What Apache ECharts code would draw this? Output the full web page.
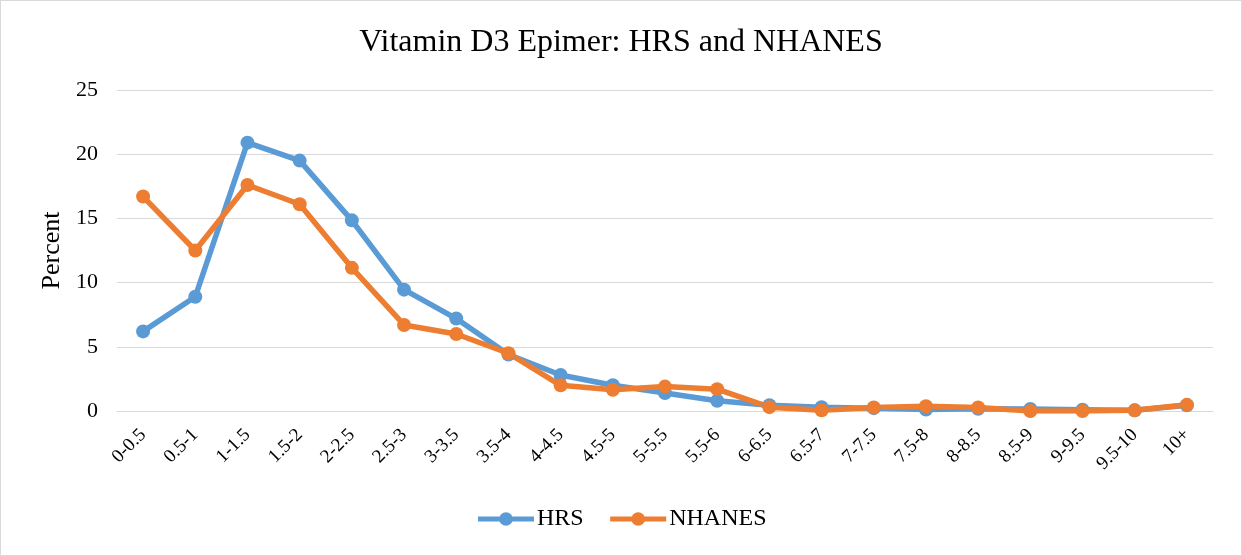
<!DOCTYPE html>
<html><head><meta charset="utf-8">
<script src="https://cdn.jsdelivr.net/npm/echarts@6/dist/echarts.min.js"></script>
<style>html,body{margin:0;padding:0;background:#fff}#c{width:1242px;height:556px;box-sizing:border-box;border:1px solid #d9d9d9}</style>
</head><body><div id="c"></div>
<script>
const categories = ['0-0.5','0.5-1','1-1.5','1.5-2','2-2.5','2.5-3','3-3.5','3.5-4','4-4.5','4.5-5','5-5.5','5.5-6','6-6.5','6.5-7','7-7.5','7.5-8','8-8.5','8.5-9','9-9.5','9.5-10','10+'];
const hrs = [6.2, 8.9, 20.9, 19.5, 14.85, 9.45, 7.2, 4.4, 2.8, 2.0, 1.4, 0.8, 0.45, 0.3, 0.22, 0.12, 0.17, 0.15, 0.1, 0.05, 0.45];
const nhanes = [16.7, 12.5, 17.6, 16.1, 11.15, 6.7, 6.0, 4.5, 2.0, 1.65, 1.9, 1.7, 0.3, 0.05, 0.27, 0.37, 0.27, 0.0, 0.0, 0.05, 0.48];
const yTicks = {min: 0, max: 25, interval: 5};
const font = '"Liberation Serif", "Times New Roman", serif';
const chart = echarts.init(document.getElementById('c'));
chart.setOption({
  animation: false,
  title: {text: 'Vitamin D3 Epimer: HRS and NHANES', left: 'center', top: 21,
    textStyle: {fontFamily: font, fontSize: 32, fontWeight: 'normal', color: '#000'}},
  grid: {left: 116, right: 28, top: 89, bottom: 144},
  legend: {bottom: 19, left: 'center', itemWidth: 56, itemHeight: 17, itemGap: 24,
    lineStyle: {width: 5},
    textStyle: {fontFamily: font, fontSize: 24, color: '#000', padding: [0, 0, 0, -2]},
    data: ['HRS', 'NHANES']},
  xAxis: {type: 'category', data: categories, boundaryGap: true,
    axisLine: {lineStyle: {color: '#d9d9d9', width: 1}},
    axisTick: {show: false},
    axisLabel: {rotate: 45, interval: 0, fontFamily: font, fontSize: 19, color: '#000', margin: 21}},
  yAxis: {type: 'value', min: yTicks.min, max: yTicks.max, interval: yTicks.interval,
    name: 'Percent', nameLocation: 'middle', nameGap: 52, nameRotate: 90,
    nameTextStyle: {fontFamily: font, fontSize: 26, color: '#000'},
    axisLine: {show: false}, axisTick: {show: false},
    axisLabel: {fontFamily: font, fontSize: 22, color: '#000', margin: 19},
    splitLine: {lineStyle: {color: '#d9d9d9', width: 1}}},
  series: [
    {name: 'HRS', type: 'line', data: hrs, symbol: 'circle', symbolSize: 14,
      lineStyle: {width: 5.5, color: '#5B9BD5'}, itemStyle: {color: '#5B9BD5'}},
    {name: 'NHANES', type: 'line', data: nhanes, symbol: 'circle', symbolSize: 14,
      lineStyle: {width: 5.5, color: '#ED7D31'}, itemStyle: {color: '#ED7D31'}}
  ]
});
</script></body></html>
